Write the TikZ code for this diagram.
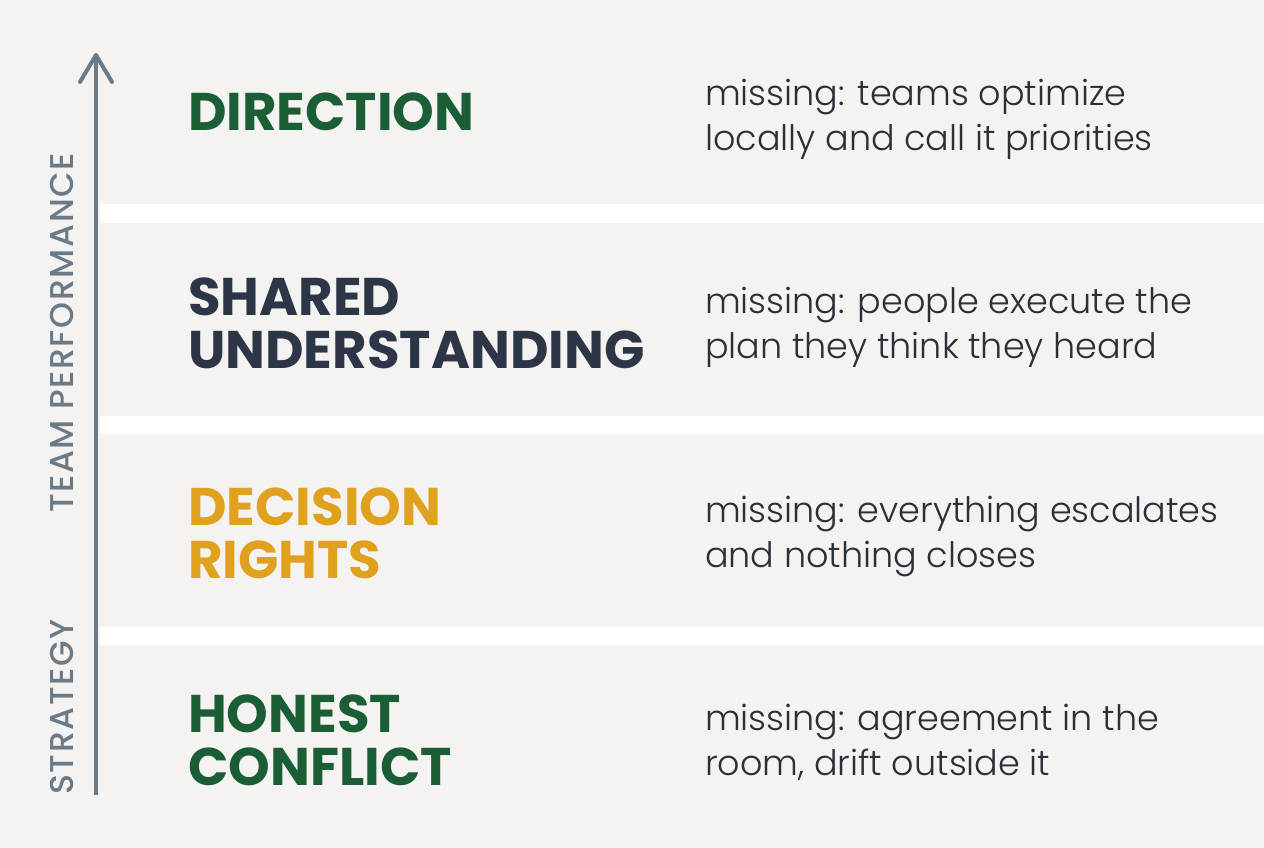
\documentclass[tikz,border=0pt]{standalone}
\usepackage{fontspec}
\setmainfont{Poppins}
\newfontfamily\descfont{Poppins Light}
\newfontfamily\axfont[LetterSpace=5]{Poppins Medium}
\usetikzlibrary{arrows.meta}
\definecolor{bg}{HTML}{F4F3F1}
\definecolor{dgreen}{HTML}{1B5E36}
\definecolor{navy}{HTML}{2C3646}
\definecolor{gold}{HTML}{E0A11F}
\definecolor{axis}{HTML}{6B7A87}
\definecolor{body}{HTML}{2A2F38}
\tikzset{
  head/.style={anchor=base west, inner sep=0pt, align=left, font=\fontsize{53}{53}\bfseries\selectfont},
  desc/.style={anchor=base west, inner sep=0pt, align=left, text=body, font=\descfont\fontsize{35}{45}\selectfont},
  axlabel/.style={inner sep=0pt, text=axis, rotate=90, font=\axfont\fontsize{33}{33}\selectfont},
  stripe/.style={fill=white, draw=none},
}
\begin{document}
\begin{tikzpicture}[x=1pt,y=-1pt]
\useasboundingbox (0,0) rectangle (1264,848);
\fill[bg] (0,0) rectangle (1264,848);
\fill[stripe] (100,204) rectangle (1264,223);
\fill[stripe] (100,416) rectangle (1264,434);
\fill[stripe] (100,627) rectangle (1264,645);
% axis
\coordinate (ab) at (96,795);
\coordinate (at) at (96,55);
\draw[axis, line width=4pt] (ab) -- (at);
\draw[axis, line width=4pt, line cap=round, line join=round] (80,82) -- (at) -- (112,82);
\node[axlabel] (tp) at (62,333) {TEAM PERFORMANCE};
\node[axlabel] (st) at (62,707) {STRATEGY};
% headings (base = baseline of last line)
\node[head, text=dgreen] (h1) at (188,131) {DIRECTION};
\node[head, text=navy] (h2) at (188,368) {SHARED\\UNDERSTANDING};
\node[head, text=gold] (h3) at (188,578) {DECISION\\RIGHTS};
\node[head, text=dgreen] (h4) at (188,785) {HONEST\\CONFLICT};
% descriptions
\node[desc] (d1) at (705,150) {missing: teams optimize\\locally and call it priorities};
\node[desc] (d2) at (705,358) {missing: people execute the\\plan they think they heard};
\node[desc] (d3) at (705,567) {missing: everything escalates\\and nothing closes};
\node[desc] (d4) at (705,775) {missing: agreement in the\\room, drift outside it};
\end{tikzpicture}
\end{document}
